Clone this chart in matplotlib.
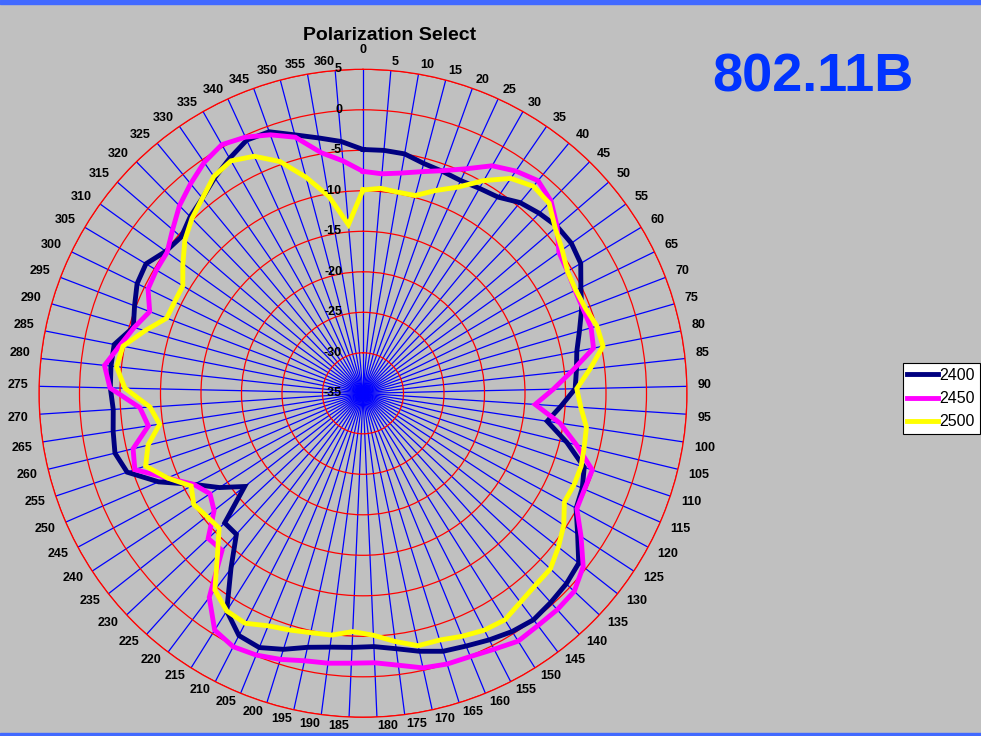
import numpy as np
import matplotlib
matplotlib.use('Agg')
import matplotlib.pyplot as plt
from matplotlib.transforms import offset_copy

plt.rcParams['font.family'] = ['Liberation Sans', 'DejaVu Sans']

# angle categories 0..360 step 5 (73 spokes)
angles = list(range(0, 361, 5))
rings = [-30, -25, -20, -15, -10, -5, 0, 5]
radial_labels = [-35, -30, -25, -20, -15, -10, -5, 0, 5]

s2400 = [-4.9, -4.9, -5.0, -5.65, -5.9, -6.1, -5.9, -5.6, -4.5, -3.9,
         -3.4, -3.3, -3.7, -5.1, -6.1, -7.2, -8.1, -8.5, -8.8, -10.5,
         -12.0, -9.1, -6.2, -5.5, -5.1, -3.3, -1.1, -0.6, -0.3, 0.0,
         -0.3, -0.8, -1.3, -1.65, -2.4, -3.2, -3.7, -3.6, -3.4, -2.9,
         -1.9, -1.1, -1.4, -3.3, -7.9, -11.6, -11.6, -16.4, -13.8, -11.3,
         -7.5, -4.3, -3.5, -3.8, -4.1, -3.8, -3.7, -3.7, -5.5, -4.8,
         -4.0, -3.8, -5.0, -5.4, -4.5, -3.8, -2.7, -1.65, -0.6, -0.7,
         -2.0, -3.0, -3.8]

s2450 = [-7.6, -7.8, -7.4, -6.7, -5.8, -4.5, -2.7, -1.7, -1.0, -1.8,
         -3.4, -5.2, -5.6, -5.9, -5.9, -5.7, -6.0, -9.0, -11.5, -13.7,
         -10.4, -7.9, -5.15, -5.2, -5.0, -2.8, -0.4, 0.75, 0.9, 0.9,
         1.1, 0.5, 0.1, 0.0, -0.3, -1.15, -1.7, -1.65, -1.4, -1.2,
         -0.6, -0.1, 0.15, -0.5, -3.45, -8.95, -8.8, -11.6, -12.4, -11.3,
         -8.7, -5.3, -5.8, -8.2, -7.4, -3.75, -2.9, -4.4, -5.6, -6.8,
         -5.5, -5.3, -5.2, -4.0, -2.6, -1.5, -0.4, 0.3, -0.2, -1.1,
         -2.3, -4.85, -6.2]

s2500 = [-9.9, -9.6, -9.8, -9.75, -8.4, -7.0, -4.8, -2.8, -1.9, -2.15,
         -3.7, -4.7, -5.6, -5.8, -5.6, -4.95, -4.8, -6.8, -8.6, -8.05,
         -7.1, -6.9, -6.6, -6.6, -6.75, -5.35, -4.3, -3.3, -3.15, -2.7,
         -2.0, -2.15, -2.6, -3.1, -3.1, -4.1, -5.1, -5.55, -4.9, -4.75,
         -4.4, -4.0, -3.1, -3.3, -4.6, -8.1, -10.65, -10.45, -10.0, -10.9,
         -8.7, -6.7, -7.7, -9.6, -8.65, -5.6, -4.4, -4.8, -7.0, -9.05,
         -9.15, -9.1, -7.6, -6.0, -4.8, -3.8, -2.5, -2.0, -2.8, -4.6,
         -7.4, -10.3, -14.1]

series = [('2400', s2400, '#000080'),
          ('2450', s2450, '#FF00FF'),
          ('2500', s2500, '#FFFF00')]

W, H = 981, 736
fig = plt.figure(figsize=(W / 100, H / 100), dpi=100, facecolor='#C0C0C0')

# chart centre and radius in pixels
cx, cy, R = 363, 393.3, 324
ax = fig.add_axes([(cx - R) / W, (H - cy - R) / H, 2 * R / W, 2 * R / H],
                  projection='polar')
ax.set_facecolor('#C0C0C0')
ax.set_theta_zero_location('N')
ax.set_theta_direction(-1)
ax.set_ylim(-35, 5)

n = len(angles)
theta = np.arange(n) * 2 * np.pi / n

ax.set_xticks(theta)
ax.set_xticklabels([])
ax.set_yticks(rings)
ax.set_yticklabels([])
ax.xaxis.grid(True, color='#0000FF', lw=0.9)
ax.yaxis.grid(True, color='#FF0000', lw=0.9)
ax.spines['polar'].set_color('#FF0000')
ax.spines['polar'].set_linewidth(0.9)
ax.tick_params(length=0)

for name, vals, col in series:
    t = np.append(theta, theta[0])
    v = np.append(vals, vals[0])
    ax.plot(t, v, color=col, lw=3.5, label=name, solid_joinstyle='miter')

# category labels round the outside, anchored by their inner side
for t, a in zip(theta, angles):
    lab = str(a)
    w = 6.8 * len(lab)
    h = 10.0
    s, c = np.sin(t), np.cos(t)
    x = cx + 335 * s + 0.5 * w * np.sign(round(s, 6))
    y = cy - 328 * c - 0.5 * h * np.clip(c / 0.1, -1, 1)
    if a == 0:
        y -= 10
    fig.text(x / W, 1 - y / H, lab, ha='center', va='center',
             fontsize=9, fontweight='bold')

# radial value labels
trans = offset_copy(ax.transData, fig=fig, x=-21, y=0, units='dots')
for v in radial_labels:
    ax.text(0, v, str(v), transform=trans, ha='right', va='center',
            fontsize=9, fontweight='bold')

fig.text(390 / W, 1 - 35 / H, 'Polarization Select', ha='center', va='center',
         fontsize=14, fontweight='bold')
fig.text(813 / W, 1 - 78 / H, '802.11B', ha='center', va='center',
         fontsize=39, fontweight='bold', color='#0033FF')

leg = fig.legend(loc='upper left', bbox_to_anchor=(902.5 / W, 1 - 363 / H),
                 fontsize=11.5, frameon=True, fancybox=False, framealpha=1,
                 edgecolor='black', handlelength=1.9, handletextpad=0.12,
                 labelspacing=0.52, borderpad=0.3, borderaxespad=0)
leg.get_frame().set_linewidth(0.8)

# blue bands at top and bottom
fig.patches.append(plt.Rectangle((0, 1 - 4 / H), 1, 4 / H, transform=fig.transFigure,
                                 color='#4169FF', zorder=0))
fig.patches.append(plt.Rectangle((0, 0), 1, 3 / H, transform=fig.transFigure,
                                 color='#4169FF', zorder=0))

fig.savefig('out.png', dpi=100, facecolor=fig.get_facecolor())
